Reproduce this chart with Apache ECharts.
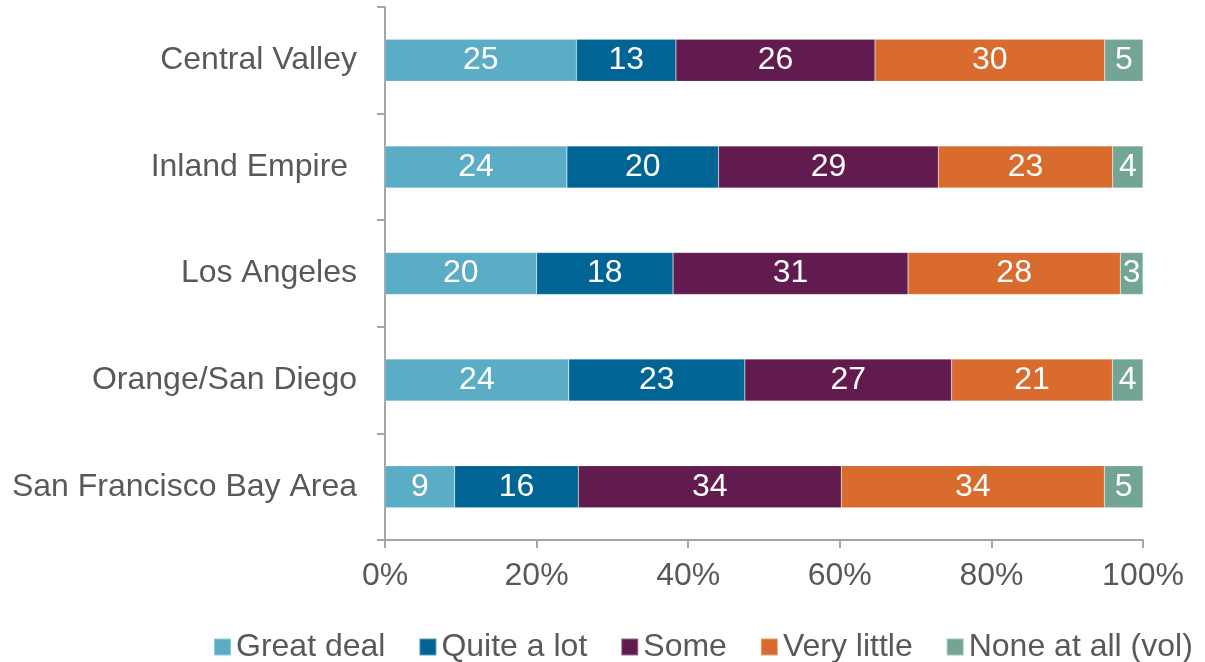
<!DOCTYPE html>
<html>
<head>
<meta charset="utf-8">
<script src="https://cdn.jsdelivr.net/npm/echarts@6/dist/echarts.min.js"></script>
<style>
  html, body { margin: 0; padding: 0; background: #fff; }
  #chart { width: 1205px; height: 662px; }
</style>
</head>
<body>
<div id="chart"></div>
<script>
// regions, top to bottom as drawn
const regions = ['Central Valley', 'Inland Empire ', 'Los Angeles', 'Orange/San Diego', 'San Francisco Bay Area']
const seriesNames = ['Great deal', 'Quite a lot', 'Some', 'Very little', 'None at all (vol)']
const greatDeal = [25, 24, 20, 24, 9]
const quiteALot = [13, 20, 18, 23, 16]
const some = [26, 29, 31, 27, 34]
const veryLittle = [30, 23, 28, 21, 34]
const noneAtAll = [5, 4, 3, 4, 5]
const colors = ['#5badc6', '#006595', '#621b4f', '#d86b2d', '#73a597']

const raw = [greatDeal, quiteALot, some, veryLittle, noneAtAll]
// bars are stretched to 100% of each row total
const totals = regions.map((r, i) => raw.reduce((s, arr) => s + arr[i], 0))

const textColor = '#595959'
const font = 'Liberation Sans, Arial, sans-serif'

let myChart = echarts.init(document.getElementById('chart'))
myChart.setOption({
  animation: false,
  color: colors,
  grid: { left: 385, right: 62, top: 7, bottom: 122, containLabel: false },
  xAxis: {
    type: 'value',
    min: 0,
    max: 100,
    interval: 20,
    axisLine: { show: true, lineStyle: { color: '#a6a6a6', width: 2 } },
    axisTick: { show: true, length: 8, lineStyle: { color: '#a6a6a6', width: 2 } },
    splitLine: { show: false },
    axisLabel: {
      formatter: '{value}%',
      color: textColor,
      fontSize: 32,
      fontFamily: font,
      margin: 20
    }
  },
  yAxis: {
    type: 'category',
    data: regions,
    inverse: true,
    axisLine: { show: true, lineStyle: { color: '#a6a6a6', width: 2 } },
    axisTick: { show: true, length: 8, lineStyle: { color: '#a6a6a6', width: 2 } },
    axisLabel: {
      color: textColor,
      fontSize: 32,
      fontFamily: font,
      margin: 28
    }
  },
  legend: {
    top: 626,
    left: 208,
    itemWidth: 17,
    itemHeight: 17,
    itemGap: 33,
    icon: 'rect',
    textStyle: { color: textColor, fontSize: 32, fontFamily: font },
    data: seriesNames
  },
  series: seriesNames.map((name, k) => ({
    name: name,
    type: 'bar',
    stack: 'total',
    barWidth: 42,
    data: raw[k].map((v, i) => ({ value: v / totals[i] * 100, raw: v })),
    itemStyle: { borderColor: 'rgba(255,255,255,0.35)', borderWidth: 0.5 },
    label: {
      show: true,
      position: 'inside',
      color: '#fff',
      fontSize: 32,
      fontFamily: font,
      formatter: p => p.data.raw
    }
  }))
})
</script>
</body>
</html>
